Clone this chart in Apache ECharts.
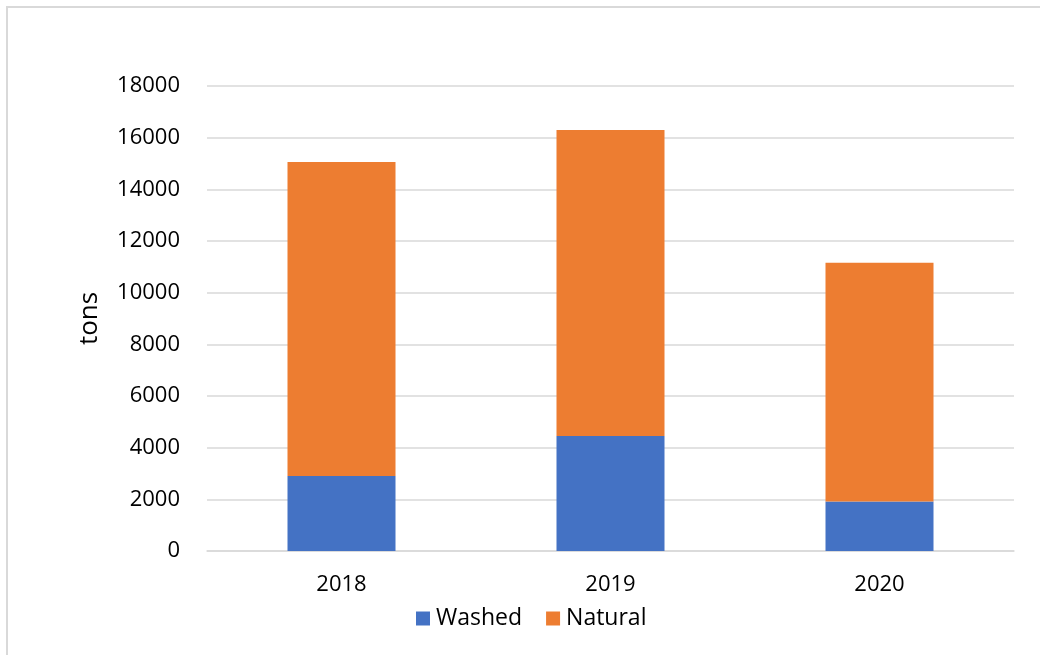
<!DOCTYPE html>
<html>
<head>
<meta charset="utf-8">
<script src="https://cdn.jsdelivr.net/npm/echarts@6/dist/echarts.min.js"></script>
<style>html,body{margin:0;padding:0;background:#fff;}#c{width:1040px;height:655px;}</style>
</head>
<body>
<div id="c"></div>
<script>
const categories = ['2018', '2019', '2020'];
const washed = [2900, 4450, 1920];
const natural = [12160, 11850, 9240];
const yTicks = [0, 2000, 4000, 6000, 8000, 10000, 12000, 14000, 16000, 18000];

const FONT = '"Open Sans", "Liberation Sans", sans-serif';
const chart = echarts.init(document.getElementById('c'));
chart.setOption({
  animation: false,
  backgroundColor: '#fff',
  graphic: [{
    type: 'rect', shape: { x: 7, y: 7, width: 1100, height: 700 },
    style: { fill: 'none', stroke: '#d9d9d9', lineWidth: 2 }, silent: true, z: -1
  }],
  grid: { left: 207, right: 26, top: 86, bottom: 104 },
  legend: {
    data: ['Washed', 'Natural'], bottom: 20, left: 411,
    itemWidth: 14, itemHeight: 14, itemGap: 24, icon: 'rect',
    textStyle: { fontFamily: FONT, fontSize: 23, color: '#000', padding: [0, 0, 0, 1] }
  },
  xAxis: {
    type: 'category', data: categories,
    axisLine: { lineStyle: { color: '#d9d9d9', width: 1.5 } },
    axisTick: { show: false },
    axisLabel: { fontFamily: FONT, fontSize: 22, color: '#000', margin: 23 }
  },
  yAxis: {
    type: 'value', min: yTicks[0], max: yTicks[yTicks.length - 1], interval: 2000,
    name: 'tons', nameLocation: 'middle', nameGap: 104, nameRotate: 90,
    nameTextStyle: { fontFamily: FONT, fontSize: 26, color: '#000' },
    axisLine: { show: false }, axisTick: { show: false },
    splitLine: { lineStyle: { color: '#d9d9d9', width: 1.5 } },
    axisLabel: { fontFamily: FONT, fontSize: 22, color: '#000', margin: 27, formatter: v => String(v) }
  },
  series: [
    { name: 'Washed', type: 'bar', stack: 'a', data: washed, barWidth: 108, itemStyle: { color: '#4472C4' } },
    { name: 'Natural', type: 'bar', stack: 'a', data: natural, barWidth: 108, itemStyle: { color: '#ED7D31' } }
  ]
});
</script>
</body>
</html>
